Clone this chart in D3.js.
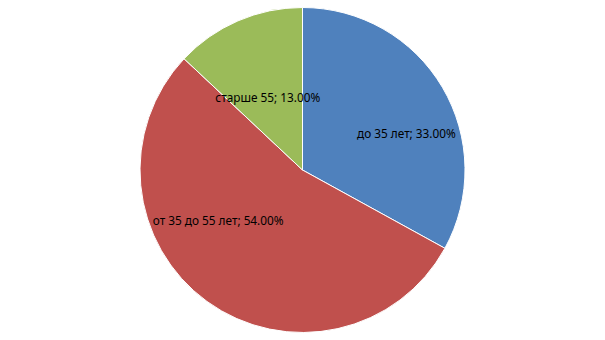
<!DOCTYPE html>
<html>
<head>
<meta charset="utf-8">
<script src="https://cdn.jsdelivr.net/npm/d3@7"></script>
<style>
  body { margin: 0; background: #fff; }
  svg { display: block; }
</style>
</head>
<body>
<div id="chart"></div>
<script>
// age groups and their shares (%)
const categories = ["до 35 лет", "от 35 до 55 лет", "старше 55"];
const shares = [33, 54, 13];
const colors = ["#4F81BD", "#C0504D", "#9BBB59"];

// label nudges from the centroid (Excel "best fit" placement)
const labelNudge = [[20, 13], [-27, -29], [4, 16]];

const width = 605, height = 340;
const cx = 302.5, cy = 170, radius = 162.5;

const svg = d3.select("#chart").append("svg")
    .attr("width", width)
    .attr("height", height);

const data = categories.map((c, i) => ({name: c, value: shares[i], i: i}));

const pie = d3.pie()
    .sort(null)
    .value(d => d.value);

const arc = d3.arc().innerRadius(0).outerRadius(radius);
const labelArc = d3.arc().innerRadius(radius * 0.6).outerRadius(radius * 0.6);

const g = svg.append("g").attr("transform", `translate(${cx},${cy})`);

const arcs = pie(data);

g.selectAll("path")
  .data(arcs)
  .join("path")
    .attr("d", arc)
    .attr("fill", d => colors[d.data.i])
    .attr("stroke", "#fff")
    .attr("stroke-width", 1);

g.selectAll("text")
  .data(arcs)
  .join("text")
    .attr("transform", d => {
        const [x, y] = labelArc.centroid(d);
        const n = labelNudge[d.data.i];
        return `translate(${x + n[0]},${y + n[1]})`;
    })
    .attr("text-anchor", "middle")
    .attr("dominant-baseline", "central")
    .attr("font-family", "Noto Sans, sans-serif")
    .attr("font-size", 11.8)
    .attr("fill", "#000")
    .text(d => `${d.data.name}; ${d3.format(".2f")(d.data.value)}%`);
</script>
</body>
</html>
